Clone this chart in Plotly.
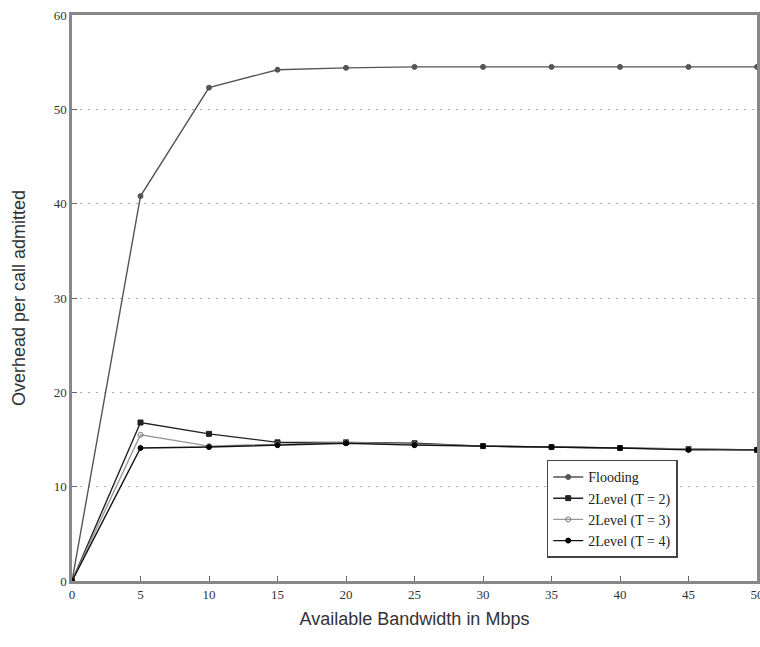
import plotly.graph_objects as go

bandwidth = [0, 5, 10, 15, 20, 25, 30, 35, 40, 45, 50]
flooding = [0, 40.8, 52.3, 54.2, 54.4, 54.5, 54.5, 54.5, 54.5, 54.5, 54.5]
level_t2 = [0, 16.8, 15.6, 14.7, 14.7, 14.6, 14.3, 14.2, 14.1, 14.0, 13.9]
level_t3 = [0, 15.5, 14.3, 14.5, 14.7, 14.5, 14.3, 14.2, 14.1, 14.0, 13.9]
level_t4 = [0, 14.1, 14.2, 14.4, 14.6, 14.4, 14.3, 14.2, 14.1, 13.9, 13.9]
x_ticks = [0, 5, 10, 15, 20, 25, 30, 35, 40, 45, 50]
y_ticks = [0, 10, 20, 30, 40, 50, 60]

fig = go.Figure()
series = [
    ("Flooding", flooding, "#555555", "circle", "#555555"),
    ("2Level (T = 2)", level_t2, "#222222", "square", "#222222"),
    ("2Level (T = 3)", level_t3, "#999999", "circle-open", "#777777"),
    ("2Level (T = 4)", level_t4, "#111111", "circle", "#000000"),
]
for name, ys, col, sym, mcol in series:
    fig.add_trace(go.Scatter(
        x=bandwidth, y=ys, name=name, mode="lines+markers",
        line=dict(color=col, width=1.4),
        marker=dict(symbol=sym, size=5, color=mcol, line=dict(color=mcol, width=1)),
    ))

fig.update_layout(
    width=760, height=647,
    margin=dict(l=72, r=3, t=15, b=66, autoexpand=False),
    paper_bgcolor="white", plot_bgcolor="white",
    showlegend=True,
    legend=dict(
        x=0.693, y=0.214, xanchor="left", yanchor="top",
        bgcolor="white", bordercolor="#444444", borderwidth=1.5,
        font=dict(family="Liberation Serif", size=14, color="#222222"),
        tracegroupgap=0, itemwidth=30,
    ),
    xaxis=dict(
        range=[0, 50], tickvals=x_ticks, ticktext=[str(v) for v in x_ticks],
        showgrid=False, zeroline=False, automargin=False,
        showline=True, linecolor="#888888", linewidth=2.5, mirror=True,
        ticks="inside", ticklen=5, tickcolor="#666666",
        ticklabeloverflow="allow",
        tickfont=dict(family="Liberation Serif", size=13, color="#333333"),
        title=dict(text="Available Bandwidth in Mbps",
                   font=dict(family="Liberation Sans", size=18, color="#333333"),
                   standoff=12),
    ),
    yaxis=dict(
        range=[0, 60], tickvals=y_ticks, ticktext=[str(v) for v in y_ticks],
        showgrid=True, gridcolor="#aaaaaa", griddash="2px,6px", gridwidth=1,
        zeroline=False, automargin=False,
        showline=True, linecolor="#888888", linewidth=2.5, mirror=True,
        ticks="inside", ticklen=5, tickcolor="#666666",
        tickfont=dict(family="Liberation Serif", size=13, color="#333333"),
        title=dict(text="Overhead per call admitted",
                   font=dict(family="Liberation Sans", size=18, color="#333333"),
                   standoff=24),
    ),
)

fig.write_html("out.html")
